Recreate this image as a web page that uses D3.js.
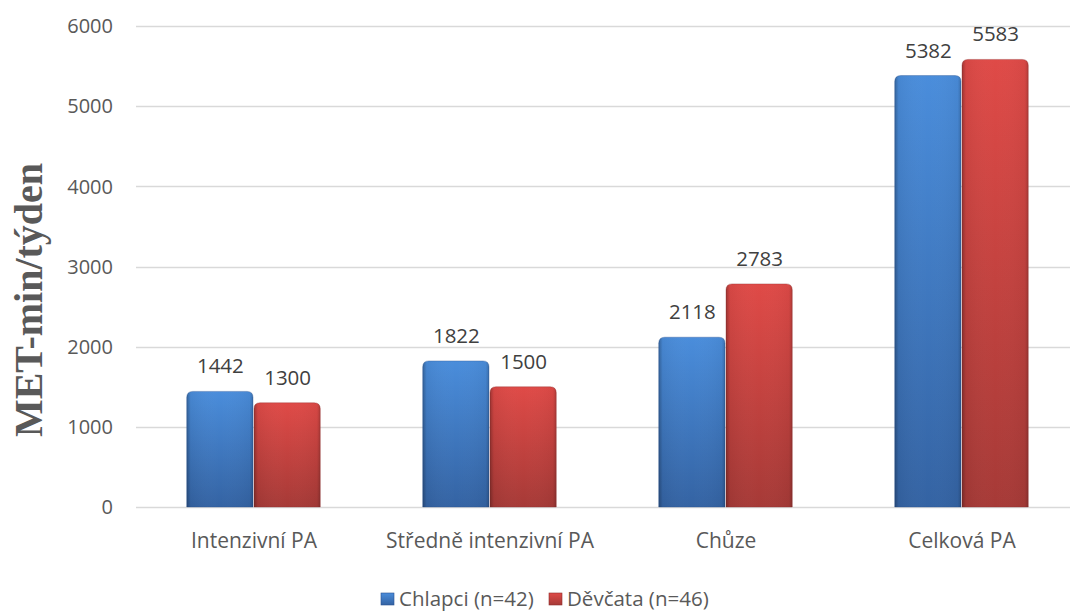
<!DOCTYPE html>
<html>
<head>
<meta charset="utf-8">
<script src="https://cdn.jsdelivr.net/npm/d3@7"></script>
<style>
  html, body { margin: 0; padding: 0; background: #fff; }
  svg { display: block; }
</style>
</head>
<body>
<svg id="chart" width="1070" height="611"></svg>
<script>
// Weekly physical activity (MET-min/week) by activity type
const categories = ["Intenzivní PA", "Středně intenzivní PA", "Chůze", "Celková PA"];
const seriesNames = ["Chlapci (n=42)", "Děvčata (n=46)"];
const boys = [1442, 1822, 2118, 5382];
const girls = [1300, 1500, 2783, 5583];
const yTicks = [0, 1000, 2000, 3000, 4000, 5000, 6000];

const svg = d3.select("#chart");
const W = 1070, H = 611;
const plot = { left: 136, right: 1080, top: 26, bottom: 507 };
const textColor = "#595959";
const font = "'Open Sans', 'Noto Sans', sans-serif";

const y = d3.scaleLinear().domain([0, 6000]).range([plot.bottom, plot.top]);
const x0 = d3.scaleBand().domain(categories).range([plot.left, plot.right])
  .paddingInner(0.43).paddingOuter(0.215);
const x1 = d3.scaleBand().domain(seriesNames).range([0, x0.bandwidth()]).padding(0);

const palette = {
  "Chlapci (n=42)": { top: "#4a8ddb", bottom: "#3463a3", edge: "#2a5290" },
  "Děvčata (n=46)": { top: "#df4a47", bottom: "#a63a37", edge: "#8e2e2c" }
};

const defs = svg.append("defs");
seriesNames.forEach((s, i) => {
  const c = palette[s];
  const g = defs.append("linearGradient").attr("id", "fill" + i)
    .attr("x1", 0).attr("y1", 0).attr("x2", 0).attr("y2", 1);
  g.append("stop").attr("offset", "0%").attr("stop-color", c.top);
  g.append("stop").attr("offset", "100%").attr("stop-color", c.bottom);
  // side shading for the bevelled look
  const h = defs.append("linearGradient").attr("id", "side" + i)
    .attr("x1", 0).attr("y1", 0).attr("x2", 1).attr("y2", 0);
  h.append("stop").attr("offset", "0%").attr("stop-color", "#000").attr("stop-opacity", 0.28);
  h.append("stop").attr("offset", "6%").attr("stop-color", "#000").attr("stop-opacity", 0.05);
  h.append("stop").attr("offset", "50%").attr("stop-color", "#fff").attr("stop-opacity", 0.0);
  h.append("stop").attr("offset", "95%").attr("stop-color", "#000").attr("stop-opacity", 0.04);
  h.append("stop").attr("offset", "100%").attr("stop-color", "#000").attr("stop-opacity", 0.2);
});

// Gridlines
svg.append("g").selectAll("line").data(yTicks).join("line")
  .attr("x1", plot.left).attr("x2", W)
  .attr("y1", d => Math.round(y(d)) + 0.5).attr("y2", d => Math.round(y(d)) + 0.5)
  .attr("stroke", "#d9d9d9").attr("stroke-width", 1.5);

// Y tick labels
svg.append("g").selectAll("text").data(yTicks).join("text")
  .attr("x", 113).attr("y", d => y(d)).attr("dy", "0.36em")
  .attr("text-anchor", "end")
  .attr("font-family", font).attr("font-size", 20).attr("fill", textColor)
  .text(d => d);

// Y axis title
svg.append("text")
  .attr("transform", `translate(42,300) rotate(-90)`)
  .attr("text-anchor", "middle")
  .attr("font-family", "'Liberation Serif', 'Times New Roman', serif")
  .attr("font-weight", "bold").attr("font-size", 40).attr("fill", textColor)
  .text("MET-min/týden");

// Bar path with rounded top corners
function barPath(x, w, yt, yb, r) {
  r = Math.min(r, (yb - yt));
  return `M${x},${yb} L${x},${yt + r} Q${x},${yt} ${x + r},${yt} L${x + w - r},${yt} Q${x + w},${yt} ${x + w},${yt + r} L${x + w},${yb} Z`;
}

const rows = categories.map((c, i) => ({ cat: c, vals: [boys[i], girls[i]] }));
const groups = svg.append("g").selectAll("g").data(rows).join("g")
  .attr("transform", d => `translate(${x0(d.cat)},0)`);

const bars = groups.selectAll("g").data(d => d.vals.map((v, i) => ({ v, i, s: seriesNames[i] })))
  .join("g");

bars.append("path")
  .attr("d", d => barPath(x1(d.s), x1.bandwidth() - 1, y(d.v), y(0), 6))
  .attr("fill", d => `url(#fill${d.i})`)
  .attr("stroke", d => palette[d.s].edge).attr("stroke-width", 0.6).attr("stroke-opacity", 0.6);
bars.append("path")
  .attr("d", d => barPath(x1(d.s), x1.bandwidth() - 1, y(d.v), y(0), 6))
  .attr("fill", d => `url(#side${d.i})`);

// Value labels
bars.append("text")
  .attr("x", d => x1(d.s) + x1.bandwidth() / 2)
  .attr("y", d => y(d.v) - 18)
  .attr("text-anchor", "middle")
  .attr("font-family", font).attr("font-size", 20.5).attr("fill", "#404040")
  .text(d => d.v);

// Category labels
svg.append("g").selectAll("text").data(categories).join("text")
  .attr("x", d => x0(d) + x0.bandwidth() / 2).attr("y", 548)
  .attr("text-anchor", "middle")
  .attr("font-family", font).attr("font-size", 21).attr("fill", textColor)
  .text(d => d);

// Legend
const legendItems = [
  { s: seriesNames[0], i: 0, x: 381 },
  { s: seriesNames[1], i: 1, x: 549 }
];
const lg = svg.append("g").selectAll("g").data(legendItems).join("g")
  .attr("transform", d => `translate(${d.x},593)`);
lg.append("rect").attr("width", 13).attr("height", 12)
  .attr("fill", d => `url(#fill${d.i})`)
  .attr("stroke", d => palette[d.s].edge).attr("stroke-width", 0.6);
lg.append("text").attr("x", 18).attr("y", 6).attr("dy", "0.36em")
  .attr("font-family", font).attr("font-size", 20.5).attr("fill", textColor)
  .text(d => d.s);
</script>
</body>
</html>
